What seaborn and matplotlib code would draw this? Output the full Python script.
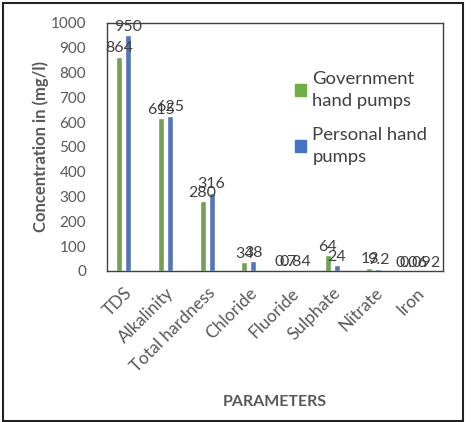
import seaborn as sns
import matplotlib.pyplot as plt
import pandas as pd
from matplotlib.patches import Rectangle

params = ["TDS", "Alkalinity", "Total hardness", "Chloride", "Fluoride",
          "Sulphate", "Nitrate", "Iron"]
government = [864, 615, 280, 34, 0.7, 64, 13, 0.06]
personal = [950, 625, 316, 38, 0.84, 24, 9.2, 0.092]
gov_labels = ["864", "615", "280", "34", "0.7", "64", "13", "0.06"]
per_labels = ["950", "625", "316", "38", "0.84", "24", "9.2", "0.092"]
series = ["Government\nhand pumps", "Personal hand\npumps"]
colors = ["#70AD47", "#4472C4"]

df = pd.DataFrame({
    "param": params * 2,
    "value": government + personal,
    "series": [series[0]] * len(params) + [series[1]] * len(params),
})

sns.set_theme(style="white")
plt.rcParams["font.family"] = ["Lato", "DejaVu Sans"]

fig = plt.figure(figsize=(4.71, 4.22), dpi=100)
ax = fig.add_axes([0.227, 0.358, 0.714, 0.588])

sns.barplot(data=df, x="param", y="value", hue="series", palette=colors,
            width=0.43, gap=0.33, ax=ax, legend=False)

for cont, labs in zip(ax.containers, [gov_labels, per_labels]):
    ax.bar_label(cont, labels=labs, padding=1, fontsize=11.5, color="#404040")

ax.set_ylim(0, 1000)
ax.set_yticks(range(0, 1001, 100))
ax.set_xlim(-0.4, 7.66)
ax.tick_params(axis="y", length=0, labelsize=11, colors="#595959", pad=15)
ax.tick_params(axis="x", length=0, labelsize=12.5, colors="#595959", pad=10)
plt.setp(ax.get_xticklabels(), rotation=45, ha="right", rotation_mode="anchor")
ax.set_xlabel("PARAMETERS", fontsize=11.5, fontweight="bold", color="#595959", labelpad=14)
ax.set_ylabel("Concentration in (mg/l)", fontsize=12, fontweight="bold", color="#595959", labelpad=1)
for s in ax.spines.values():
    s.set_color("#404040")
    s.set_linewidth(1)

handles = [Rectangle((0, 0), 1, 1, color=c) for c in colors]
leg = ax.legend(handles, series, loc="upper left", bbox_to_anchor=(0.626, 0.832),
                bbox_transform=fig.transFigure, frameon=False, fontsize=13.3,
                handlelength=0.6, handleheight=0.6, handletextpad=0.35,
                labelspacing=1.0, borderpad=0, borderaxespad=0)
for t in leg.get_texts():
    t.set_color("#404040")
    t.set_linespacing(1.45)

fig.patches.append(Rectangle((3 / 471, 1 / 422), 460 / 471, 418 / 422,
                             transform=fig.transFigure, fill=False,
                             edgecolor="#222222", linewidth=1.5))

plt.savefig("out.png", dpi=100)
